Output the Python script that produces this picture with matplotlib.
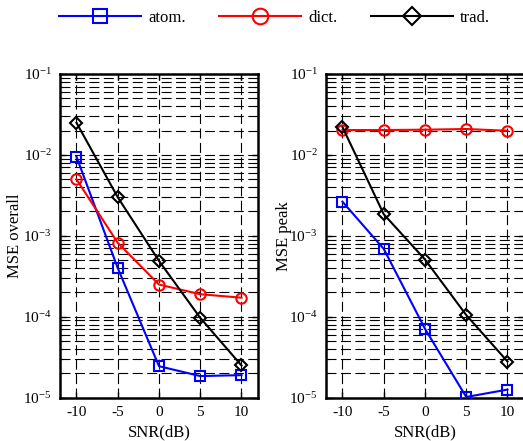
import math
import matplotlib
matplotlib.use("Agg")
import matplotlib.pyplot as plt
from matplotlib.ticker import LogLocator, FixedLocator, NullFormatter, FuncFormatter

plt.rcParams['font.family'] = ['Liberation Serif', 'DejaVu Serif']
plt.rcParams['mathtext.fontset'] = 'custom'
plt.rcParams['mathtext.rm'] = 'Liberation Serif'
plt.rcParams['mathtext.it'] = 'Liberation Serif:italic'
plt.rcParams['axes.unicode_minus'] = False

snr = [-10, -5, 0, 5, 10]

overall_atom = [9.5e-3, 4.0e-4, 2.45e-5, 1.85e-5, 1.9e-5]
overall_dict = [5.0e-3, 8.2e-4, 2.5e-4, 1.9e-4, 1.72e-4]
overall_trad = [2.5e-2, 3.0e-3, 4.9e-4, 9.7e-5, 2.5e-5]

peak_atom = [2.64e-3, 6.9e-4, 7.1e-5, 1.02e-5, 1.26e-5]
peak_dict = [2.03e-2, 2.03e-2, 2.05e-2, 2.09e-2, 1.99e-2]
peak_trad = [2.21e-2, 1.85e-3, 5.1e-4, 1.05e-4, 2.8e-5]

ylabels = ['MSE overall', 'MSE peak']
xlabel = 'SNR(dB)'
legend_labels = ['atom.', 'dict.', 'trad.']

fig = plt.figure(figsize=(5.23, 4.41), dpi=100)
ax1 = fig.add_axes([0.1147, 0.0982, 0.3786, 0.734])
ax2 = fig.add_axes([0.6233, 0.0982, 0.3786, 0.734])

styles = [
    dict(color='#0000ff', marker='s', markersize=6.5),
    dict(color='#ff0000', marker='o', markersize=7.5),
    dict(color='#000000', marker='D', markersize=6),
]

def fmt(v, pos):
    e = int(round(math.log10(v)))
    return r'$10^{%d}$' % e

dash = (0, (9, 4))
handles = []
for ax, data, yl, lx in [(ax1, (overall_atom, overall_dict, overall_trad), ylabels[0], -0.185),
                         (ax2, (peak_atom, peak_dict, peak_trad), ylabels[1], -0.172)]:
    ax.set_yscale('log')
    ax.set_xlim(-12, 12)
    ax.set_ylim(1e-5, 1e-1)
    hs = []
    for d, st, lab in zip(data, styles, legend_labels):
        h, = ax.plot(snr, d, linewidth=1.5, markerfacecolor='none',
                     markeredgewidth=1.5, label=lab, zorder=3, **st)
        hs.append(h)
    handles = hs
    ax.xaxis.set_major_locator(FixedLocator(snr))
    ax.yaxis.set_major_locator(LogLocator(base=10, numticks=10))
    ax.yaxis.set_minor_locator(LogLocator(base=10, subs=range(2, 10), numticks=20))
    ax.yaxis.set_minor_formatter(NullFormatter())
    ax.yaxis.set_major_formatter(FuncFormatter(fmt))
    ax.grid(True, which='major', axis='both', color='black', linestyle=dash, linewidth=0.8)
    ax.grid(True, which='minor', axis='y', color='black', linestyle=dash, linewidth=0.8)
    ax.tick_params(which='both', direction='in', top=True, right=True, labelsize=11)
    ax.tick_params(which='major', length=4, width=1, pad=6)
    ax.tick_params(which='minor', length=2.5, width=0.8)
    for sp in ax.spines.values():
        sp.set_linewidth(1.8)
    ax.set_ylabel(yl, fontsize=12)
    ax.yaxis.set_label_coords(lx, 0.5)
    ax.set_xlabel(xlabel, fontsize=12, labelpad=4)

fig.legend(handles, legend_labels, loc='upper center', bbox_to_anchor=(0.525, 1.012),
           ncol=3, frameon=False, fontsize=12, handlelength=4.9, columnspacing=2.0,
           handletextpad=0.45, markerscale=1.5)

fig.savefig('out.png', dpi=100)
